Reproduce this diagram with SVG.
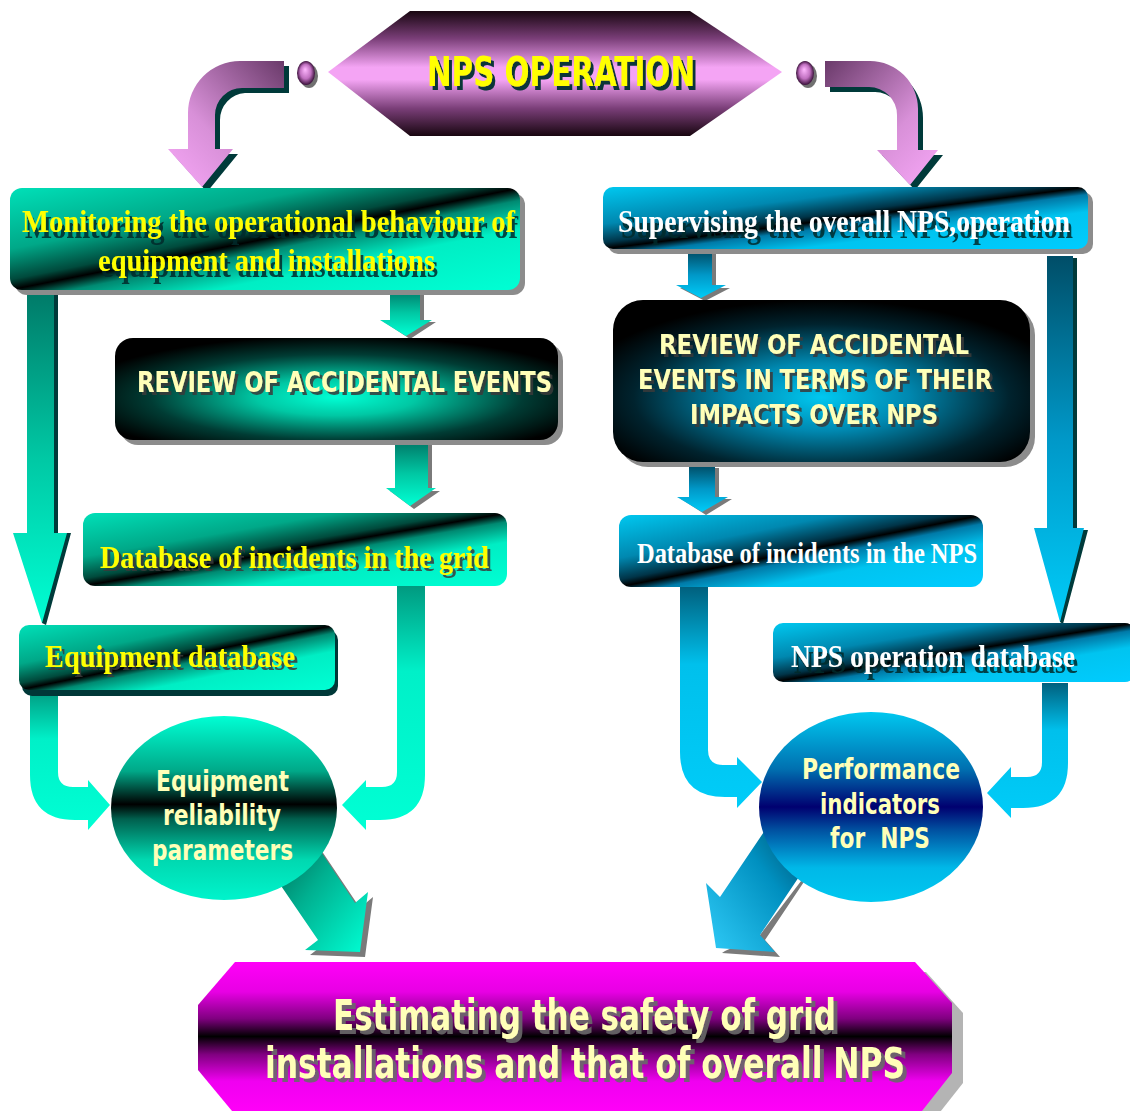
<svg xmlns="http://www.w3.org/2000/svg" width="1130" height="1111" viewBox="0 0 1130 1111">
<style>
.ser{font-family:"Liberation Serif","Times New Roman",serif;font-weight:bold}
.san{font-family:"DejaVu Sans","Liberation Sans",sans-serif;font-weight:bold}
.yel{fill:#ffff00}
.wht{fill:#ffffff}
.cream{fill:#ffffb8}
.dk{filter:url(#shD)}
.dk4{filter:url(#shD4)}
.gy{filter:url(#shG)}
.gy4{filter:url(#shG4)}
.boxsh{fill:#8c8c8c}
.arrsh{fill:#7a7a7a}
.tealsh{fill:#003a3a}
</style>
<defs>
<filter id="shD" x="-5%" y="-30%" width="115%" height="170%">
<feFlood flood-color="#00282a" flood-opacity="0.85"/>
<feComposite in2="SourceAlpha" operator="in"/>
<feOffset dx="3" dy="6" result="s"/>
<feMerge><feMergeNode in="s"/><feMergeNode in="SourceGraphic"/></feMerge>
</filter>
<filter id="shD4" x="-5%" y="-20%" width="115%" height="150%">
<feFlood flood-color="#003030" flood-opacity="0.95"/>
<feComposite in2="SourceAlpha" operator="in"/>
<feOffset dx="3" dy="4" result="s"/>
<feMerge><feMergeNode in="s"/><feMergeNode in="SourceGraphic"/></feMerge>
</filter>
<filter id="shG" x="-5%" y="-20%" width="115%" height="150%">
<feFlood flood-color="#3a3a3a" flood-opacity="0.85"/>
<feComposite in2="SourceAlpha" operator="in"/>
<feOffset dx="3" dy="3" result="s"/>
<feMerge><feMergeNode in="s"/><feMergeNode in="SourceGraphic"/></feMerge>
</filter>
<filter id="shG4" x="-5%" y="-20%" width="115%" height="150%">
<feFlood flood-color="#6a6a6a" flood-opacity="0.9"/>
<feComposite in2="SourceAlpha" operator="in"/>
<feOffset dx="4" dy="4" result="s"/>
<feMerge><feMergeNode in="s"/><feMergeNode in="SourceGraphic"/></feMerge>
</filter>
<linearGradient id="gTealBox" x1="0" y1="0" x2="1" y2="1">
<stop offset="0" stop-color="#00e0b8"/>
<stop offset="0.3" stop-color="#00a888"/>
<stop offset="0.45" stop-color="#004a3c"/>
<stop offset="0.5" stop-color="#000000"/>
<stop offset="0.56" stop-color="#008a72"/>
<stop offset="0.7" stop-color="#00eec4"/>
<stop offset="1" stop-color="#00ffd4"/>
</linearGradient>
<linearGradient id="gBlueBox" x1="0" y1="0" x2="1" y2="1">
<stop offset="0" stop-color="#00c8f0"/>
<stop offset="0.3" stop-color="#0088b0"/>
<stop offset="0.45" stop-color="#003448"/>
<stop offset="0.5" stop-color="#000000"/>
<stop offset="0.56" stop-color="#007aa8"/>
<stop offset="0.7" stop-color="#00c4f0"/>
<stop offset="1" stop-color="#00ccff"/>
</linearGradient>
<radialGradient id="gTealRad" cx="0.5" cy="0.58" r="0.6">
<stop offset="0" stop-color="#00ffd4"/>
<stop offset="0.3" stop-color="#00c8a4"/>
<stop offset="0.7" stop-color="#003c34"/>
<stop offset="1" stop-color="#000000"/>
</radialGradient>
<radialGradient id="gBlueRad" cx="0.5" cy="0.6" r="0.6">
<stop offset="0" stop-color="#00c8f0"/>
<stop offset="0.35" stop-color="#0088b0"/>
<stop offset="0.75" stop-color="#00232e"/>
<stop offset="1" stop-color="#000000"/>
</radialGradient>
<linearGradient id="gTealCirc" x1="0" y1="0" x2="0" y2="1">
<stop offset="0" stop-color="#00ffd4"/>
<stop offset="0.3" stop-color="#00a888"/>
<stop offset="0.48" stop-color="#000000"/>
<stop offset="0.56" stop-color="#00604e"/>
<stop offset="0.78" stop-color="#00d8b0"/>
<stop offset="1" stop-color="#00f4cc"/>
</linearGradient>
<linearGradient id="gBlueCirc" x1="0" y1="0" x2="0" y2="1">
<stop offset="0" stop-color="#00c8f0"/>
<stop offset="0.3" stop-color="#0070b0"/>
<stop offset="0.5" stop-color="#000070"/>
<stop offset="0.62" stop-color="#0050a0"/>
<stop offset="0.82" stop-color="#00b8e8"/>
<stop offset="1" stop-color="#00c8f0"/>
</linearGradient>
<linearGradient id="gHexTop" x1="0" y1="0" x2="0" y2="1">
<stop offset="0" stop-color="#180610"/>
<stop offset="0.22" stop-color="#7a3e78"/>
<stop offset="0.45" stop-color="#f4a4f4"/>
<stop offset="0.55" stop-color="#f4a4f4"/>
<stop offset="0.78" stop-color="#7a3e78"/>
<stop offset="1" stop-color="#180610"/>
</linearGradient>
<linearGradient id="gHexBot" x1="0" y1="0" x2="0" y2="1">
<stop offset="0" stop-color="#ff00f8"/>
<stop offset="0.2" stop-color="#e800e4"/>
<stop offset="0.38" stop-color="#800080"/>
<stop offset="0.5" stop-color="#000000"/>
<stop offset="0.62" stop-color="#800080"/>
<stop offset="0.8" stop-color="#f000f0"/>
<stop offset="1" stop-color="#ff00f8"/>
</linearGradient>
<linearGradient id="gPinkL" x1="1" y1="0" x2="0" y2="1">
<stop offset="0" stop-color="#6a3a6a"/>
<stop offset="0.6" stop-color="#d890d8"/>
<stop offset="1" stop-color="#f8a8f8"/>
</linearGradient>
<linearGradient id="gPinkR" x1="0" y1="0" x2="1" y2="1">
<stop offset="0" stop-color="#6a3a6a"/>
<stop offset="0.6" stop-color="#d890d8"/>
<stop offset="1" stop-color="#f8a8f8"/>
</linearGradient>
<radialGradient id="gSphere" cx="0.5" cy="0.5" r="0.5" fx="0.45" fy="0.35">
<stop offset="0" stop-color="#ffb8ff"/>
<stop offset="0.6" stop-color="#c070c0"/>
<stop offset="1" stop-color="#3a103a"/>
</radialGradient>
<linearGradient id="gTealArrV" x1="0" y1="0" x2="0" y2="1">
<stop offset="0" stop-color="#007a68"/>
<stop offset="0.5" stop-color="#00c8a4"/>
<stop offset="1" stop-color="#00ffd4"/>
</linearGradient>
<linearGradient id="gTealArrC" x1="0" y1="0" x2="0" y2="1">
<stop offset="0" stop-color="#009a80"/>
<stop offset="0.35" stop-color="#00f0c8"/>
<stop offset="1" stop-color="#00ffd4"/>
</linearGradient>
<linearGradient id="gBlueArrV" x1="0" y1="0" x2="0" y2="1">
<stop offset="0" stop-color="#004e68"/>
<stop offset="0.5" stop-color="#0098c8"/>
<stop offset="1" stop-color="#00ccf8"/>
</linearGradient>
<linearGradient id="gBlueArrC" x1="0" y1="0" x2="0" y2="1">
<stop offset="0" stop-color="#00607e"/>
<stop offset="0.35" stop-color="#00c0ec"/>
<stop offset="1" stop-color="#00ccf8"/>
</linearGradient>
<linearGradient id="gTealDiag" x1="0" y1="0" x2="1" y2="1">
<stop offset="0" stop-color="#004a3c"/>
<stop offset="0.5" stop-color="#00b090"/>
<stop offset="1" stop-color="#00ffd4"/>
</linearGradient>
<linearGradient id="gBlueDiag" x1="1" y1="0" x2="0" y2="1">
<stop offset="0" stop-color="#002438"/>
<stop offset="0.5" stop-color="#0090c0"/>
<stop offset="1" stop-color="#30ccf8"/>
</linearGradient>
</defs>

<g id="connectors">
<path class="tealsh" d="M289,66 L240,66 A52,52 0 0 0 193,118 L193,154 L173,154 L207,192 L238,154 L220,154 L220,120 A27,27 0 0 1 245,93 L289,93 Z"/>
<path fill="url(#gPinkL)" d="M284,61 L240,61 A52,52 0 0 0 188,113 L188,149 L168,149 L202,187 L233,149 L215,149 L215,115 A27,27 0 0 1 242,88 L284,88 Z"/>
<path class="tealsh" d="M830,66 L876,66 A52,52 0 0 1 923,118 L923,155 L943,155 L915,190 L882,155 L902,155 L902,120 A27,27 0 0 0 875,92 L830,92 Z"/>
<path fill="url(#gPinkR)" d="M825,61 L870,61 A48,48 0 0 1 918,109 L918,150 L938,150 L910,185 L877,150 L897,150 L897,115 A28,28 0 0 0 869,87 L825,87 Z"/>
<ellipse cx="309" cy="76" rx="9" ry="12" fill="#707070"/>
<ellipse cx="306" cy="73" rx="9" ry="12" fill="url(#gSphere)"/>
<ellipse cx="808" cy="76" rx="9" ry="12" fill="#707070"/>
<ellipse cx="805" cy="73" rx="9" ry="12" fill="url(#gSphere)"/>

<path class="tealsh" d="M31,292 L58,292 L58,533 L71,533 L46,625 L42,623 Z"/>
<path fill="url(#gTealArrV)" d="M27,292 L54,292 L54,533 L67,533 L42,623 L13,533 L27,533 Z"/>
<path class="arrsh" d="M394,292 L424,292 L424,322 L436,322 L410,339 L384,322 L394,322 Z"/>
<path fill="url(#gTealArrV)" d="M390,290 L420,290 L420,320 L432,320 L406,336 L380,320 L390,320 Z"/>
<path class="arrsh" d="M399,445 L432,445 L432,491 L440,491 L414,509 L390,491 L399,491 Z"/>
<path fill="url(#gTealArrV)" d="M395,442 L428,442 L428,488 L436,488 L410,506 L386,488 L395,488 Z"/>
<path fill="url(#gTealArrC)" d="M30,690 L58,690 L58,772 Q58,787 73,787 L88,787 L88,780 L110,805 L88,830 L88,820 L75,820 Q30,820 30,775 Z"/>
<path fill="url(#gTealArrC)" d="M397,586 L425,586 L425,775 Q425,820 380,820 L366,820 L366,830 L342,805 L366,780 L366,787 L382,787 Q397,787 397,772 Z"/>
<path class="arrsh" d="M305,826 L360,908 L373,897 L365,957 L310,955 L323,945 L267,863 Z"/>
<path fill="url(#gTealDiag)" d="M300,820 L355,903 L368,892 L360,952 L305,950 L318,940 L262,858 Z"/>

<path class="tealsh" d="M1073,258 L1077,258 L1077,530 L1088,530 L1063,624 L1060,622 Z"/>
<path fill="url(#gBlueArrV)" d="M1047,256 L1073,256 L1073,528 L1084,528 L1060,622 L1034,528 L1047,528 Z"/>
<path class="arrsh" d="M692,254 L716,254 L716,288 L730,288 L705,301 L680,288 L692,288 Z"/>
<path fill="url(#gBlueArrV)" d="M688,252 L712,252 L712,285 L726,285 L701,298 L676,285 L688,285 Z"/>
<path class="arrsh" d="M693,468 L719,468 L719,499 L732,499 L706,515 L681,499 L693,499 Z"/>
<path fill="url(#gBlueArrV)" d="M689,466 L715,466 L715,497 L728,497 L702,512 L677,497 L689,497 Z"/>
<path fill="url(#gBlueArrC)" d="M680,587 L708,587 L708,750 Q708,765 723,765 L737,765 L737,757 L762,782 L737,808 L737,797 L725,797 Q680,797 680,752 Z"/>
<path fill="url(#gBlueArrC)" d="M1042,683 L1068,683 L1068,763 Q1068,808 1023,808 L1011,808 L1011,818 L987,793 L1011,767 L1011,777 L1027,777 Q1042,777 1042,762 Z"/>
<path class="arrsh" d="M830,843 L765,940 L780,957 L722,953 L725,951 L760,935 Z"/>
<path fill="url(#gBlueDiag)" d="M790,793 L720,897 L706,883 L716,948 L775,952 L760,935 L825,838 Z"/>
</g>

<g id="node-nps-operation">
<polygon points="328,72 410,11 690,11 782,72 690,136 410,136" fill="url(#gHexTop)"/>
<text class="san yel dk4" x="427" y="86" font-size="40" textLength="268" lengthAdjust="spacingAndGlyphs">NPS OPERATION</text>
</g>

<g id="node-monitoring">
<rect class="boxsh" x="15" y="193" width="510" height="102" rx="12"/>
<rect x="10" y="188" width="510" height="102" rx="12" fill="url(#gTealBox)"/>
<text class="ser yel dk" x="22" y="232" font-size="32" textLength="493" lengthAdjust="spacingAndGlyphs">Monitoring the operational behaviour of</text>
<text class="ser yel dk" x="98" y="271" font-size="32" textLength="337" lengthAdjust="spacingAndGlyphs">equipment and installations</text>
</g>

<g id="node-review-left">
<rect class="boxsh" x="120" y="343" width="443" height="102" rx="18"/>
<rect x="115" y="338" width="443" height="102" rx="18" fill="url(#gTealRad)"/>
<text class="san cream gy" x="137" y="392" font-size="28" textLength="415" lengthAdjust="spacingAndGlyphs">REVIEW OF ACCIDENTAL EVENTS</text>
</g>

<g id="node-db-grid">
<rect x="83" y="513" width="424" height="73" rx="12" fill="url(#gTealBox)"/>
<text class="ser yel gy" x="100" y="568" font-size="32" textLength="389" lengthAdjust="spacingAndGlyphs">Database of incidents in the grid</text>
</g>

<g id="node-equipment-db">
<rect x="22" y="630" width="316" height="66" rx="10" fill="#003838"/>
<rect x="19" y="625" width="316" height="65" rx="10" fill="url(#gTealBox)"/>
<text class="ser yel gy" x="45" y="667" font-size="32" textLength="250" lengthAdjust="spacingAndGlyphs">Equipment database</text>
</g>

<g id="node-equipment-reliability">
<ellipse cx="224" cy="808" rx="113" ry="92" fill="url(#gTealCirc)"/>
<text class="san cream" x="156" y="791" font-size="28" textLength="133" lengthAdjust="spacingAndGlyphs">Equipment</text>
<text class="san cream" x="163" y="825" font-size="28" textLength="118" lengthAdjust="spacingAndGlyphs">reliability</text>
<text class="san cream" x="152" y="860" font-size="28" textLength="141" lengthAdjust="spacingAndGlyphs">parameters</text>
</g>

<g id="node-supervising">
<rect class="boxsh" x="608" y="192" width="485" height="62" rx="10"/>
<rect x="603" y="187" width="485" height="62" rx="10" fill="url(#gBlueBox)"/>
<text class="ser wht dk" x="618" y="232" font-size="32" textLength="452" lengthAdjust="spacingAndGlyphs">Supervising the overall NPS,operation</text>
</g>

<g id="node-review-right">
<rect class="boxsh" x="618" y="305" width="417" height="162" rx="30"/>
<rect x="613" y="300" width="417" height="162" rx="30" fill="url(#gBlueRad)"/>
<text class="san cream gy" x="659" y="354" font-size="27" textLength="310" lengthAdjust="spacingAndGlyphs">REVIEW OF ACCIDENTAL</text>
<text class="san cream gy" x="638" y="389" font-size="27" textLength="354" lengthAdjust="spacingAndGlyphs">EVENTS IN TERMS OF THEIR</text>
<text class="san cream gy" x="690" y="424" font-size="27" textLength="248" lengthAdjust="spacingAndGlyphs">IMPACTS OVER NPS</text>
</g>

<g id="node-db-nps">
<rect x="619" y="515" width="364" height="72" rx="12" fill="url(#gBlueBox)"/>
<text class="ser wht" x="637" y="563" font-size="29" textLength="340" lengthAdjust="spacingAndGlyphs">Database of incidents in the NPS</text>
</g>

<g id="node-nps-operation-db">
<rect x="773" y="623" width="362" height="59" rx="10" fill="url(#gBlueBox)"/>
<text class="ser wht dk" x="791" y="667" font-size="31" textLength="284" lengthAdjust="spacingAndGlyphs">NPS operation database</text>
</g>

<g id="node-performance-indicators">
<ellipse cx="871" cy="807" rx="112" ry="95" fill="url(#gBlueCirc)"/>
<text class="san cream" x="802" y="779" font-size="28" textLength="158" lengthAdjust="spacingAndGlyphs">Performance</text>
<text class="san cream" x="820" y="814" font-size="28" textLength="120" lengthAdjust="spacingAndGlyphs">indicators</text>
<text class="san cream" x="830" y="848" font-size="28" textLength="100" lengthAdjust="spacingAndGlyphs" xml:space="preserve">for  NPS</text>
</g>

<g id="node-estimating">
<polygon points="246,972 926,972 963,1013 963,1083 933,1121 243,1121 209,1080 209,1015" fill="#b4b4b4"/>
<polygon points="235,962 915,962 952,1003 952,1073 922,1111 232,1111 198,1070 198,1005" fill="url(#gHexBot)"/>
<text class="san cream gy4" x="333" y="1030" font-size="42" textLength="503" lengthAdjust="spacingAndGlyphs">Estimating the safety of grid</text>
<text class="san cream gy4" x="265" y="1078" font-size="42" textLength="640" lengthAdjust="spacingAndGlyphs">installations and that of overall NPS</text>
</g>
</svg>
